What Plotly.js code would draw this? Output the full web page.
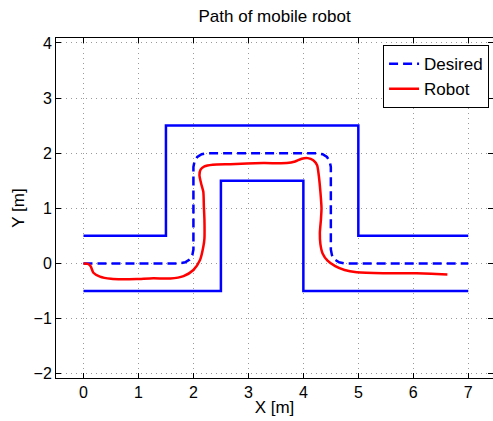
<!DOCTYPE html>
<html>
<head>
<meta charset="utf-8">
<script src="https://cdn.plot.ly/plotly-3.0.1.min.js"></script>
<style>
  html, body { margin: 0; padding: 0; background: #fff; }
  #chart { width: 493px; height: 421px; }
</style>
</head>
<body>
<div id="chart"></div>
<script>
// Corridor walls (outer and inner edges)
const wallOuterX = [0, 1.5, 1.5, 5, 5, 7];
const wallOuterY = [0.5, 0.5, 2.5, 2.5, 0.5, 0.5];
const wallInnerX = [0, 2.5, 2.5, 4, 4, 7];
const wallInnerY = [-0.5, -0.5, 1.5, 1.5, -0.5, -0.5];

// Desired path through the corridor centre
const desiredX = [0, 1.75, 1.85, 1.93, 1.98, 2.0, 2.0, 2.02, 2.07, 2.15, 2.25,
                  4.25, 4.35, 4.43, 4.48, 4.5, 4.5, 4.52, 4.57, 4.65, 4.75, 7];
const desiredY = [0, 0, 0.02, 0.07, 0.15, 0.25, 1.75, 1.85, 1.93, 1.98, 2.0,
                  2.0, 1.98, 1.93, 1.85, 1.75, 0.25, 0.15, 0.07, 0.02, 0, 0];

// Measured robot trajectory
const robotX = [0, 0.08, 0.13, 0.18, 0.3, 0.5, 0.7, 0.97, 1.27, 1.58, 1.82, 2.0,
                2.12, 2.18, 2.2, 2.2, 2.19, 2.18, 2.14, 2.11, 2.13, 2.2, 2.35,
                2.67, 3.27, 3.7, 3.85, 3.97, 4.08, 4.18, 4.25, 4.28, 4.31, 4.33,
                4.32, 4.3, 4.31, 4.35, 4.44, 4.58, 4.75, 4.97, 5.45, 6.06, 6.62];
const robotY = [0, -0.01, -0.05, -0.17, -0.24, -0.28, -0.29, -0.285, -0.27, -0.275,
                -0.23, -0.12, 0.06, 0.3, 0.45, 0.8, 1.03, 1.3, 1.45, 1.6, 1.7,
                1.76, 1.79, 1.8, 1.82, 1.82, 1.85, 1.9, 1.91, 1.87, 1.78, 1.6,
                1.3, 1.0, 0.8, 0.55, 0.35, 0.18, 0.05, -0.05, -0.12, -0.16,
                -0.18, -0.18, -0.2];

const xTicks = [0, 1, 2, 3, 4, 5, 6, 7];
const yTicks = [-2, -1, 0, 1, 2, 3, 4];

const FONT = 'Liberation Sans, Arial, Helvetica, sans-serif';
const textFont = { family: FONT, size: 17, color: '#000' };

const traces = [
  { x: wallOuterX, y: wallOuterY, mode: 'lines', showlegend: false,
    line: { color: '#0000ff', width: 2.5 }, hoverinfo: 'skip' },
  { x: wallInnerX, y: wallInnerY, mode: 'lines', showlegend: false,
    line: { color: '#0000ff', width: 2.5 }, hoverinfo: 'skip' },
  { x: desiredX, y: desiredY, mode: 'lines', name: 'Desired',
    line: { color: '#0000ff', width: 2.5, dash: '9px,5px' } },
  { x: robotX, y: robotY, mode: 'lines', name: 'Robot',
    line: { color: '#ff0000', width: 2.5, shape: 'spline', smoothing: 0.6 } }
];

const axisCommon = {
  showline: true, linecolor: '#000', linewidth: 1, mirror: 'ticks',
  ticks: 'inside', ticklen: 5, tickcolor: '#000', tickwidth: 1,
  showgrid: true, gridcolor: '#9a9a9a', gridwidth: 1, griddash: '1px,4px',
  zeroline: false, tickfont: { family: FONT, size: 16, color: '#000' }
};

const layout = {
  width: 493, height: 421,
  margin: { l: 56, r: 0, t: 38, b: 43 },
  paper_bgcolor: '#fff', plot_bgcolor: '#fff',
  font: textFont,
  title: { text: 'Path of mobile robot', font: textFont,
           x: 0.557, xanchor: 'center', y: 0.962, yanchor: 'middle' },
  xaxis: Object.assign({}, axisCommon, {
    range: [-0.5, 7.45], tickvals: xTicks, ticktext: xTicks.map(String),
    title: { text: 'X [m]', font: textFont, standoff: 0 }
  }),
  yaxis: Object.assign({}, axisCommon, {
    range: [-2.08, 4.09], tickvals: yTicks,
    title: { text: 'Y [m]', font: textFont, standoff: 4 }
  }),
  legend: {
    x: 0.991, xanchor: 'right', y: 0.979, yanchor: 'top',
    bgcolor: '#fff', bordercolor: '#000', borderwidth: 1,
    font: textFont, tracegroupgap: 0, itemwidth: 30
  },
  showlegend: true
};

Plotly.newPlot('chart', traces, layout, { staticPlot: true, displayModeBar: false });
</script>
</body>
</html>
